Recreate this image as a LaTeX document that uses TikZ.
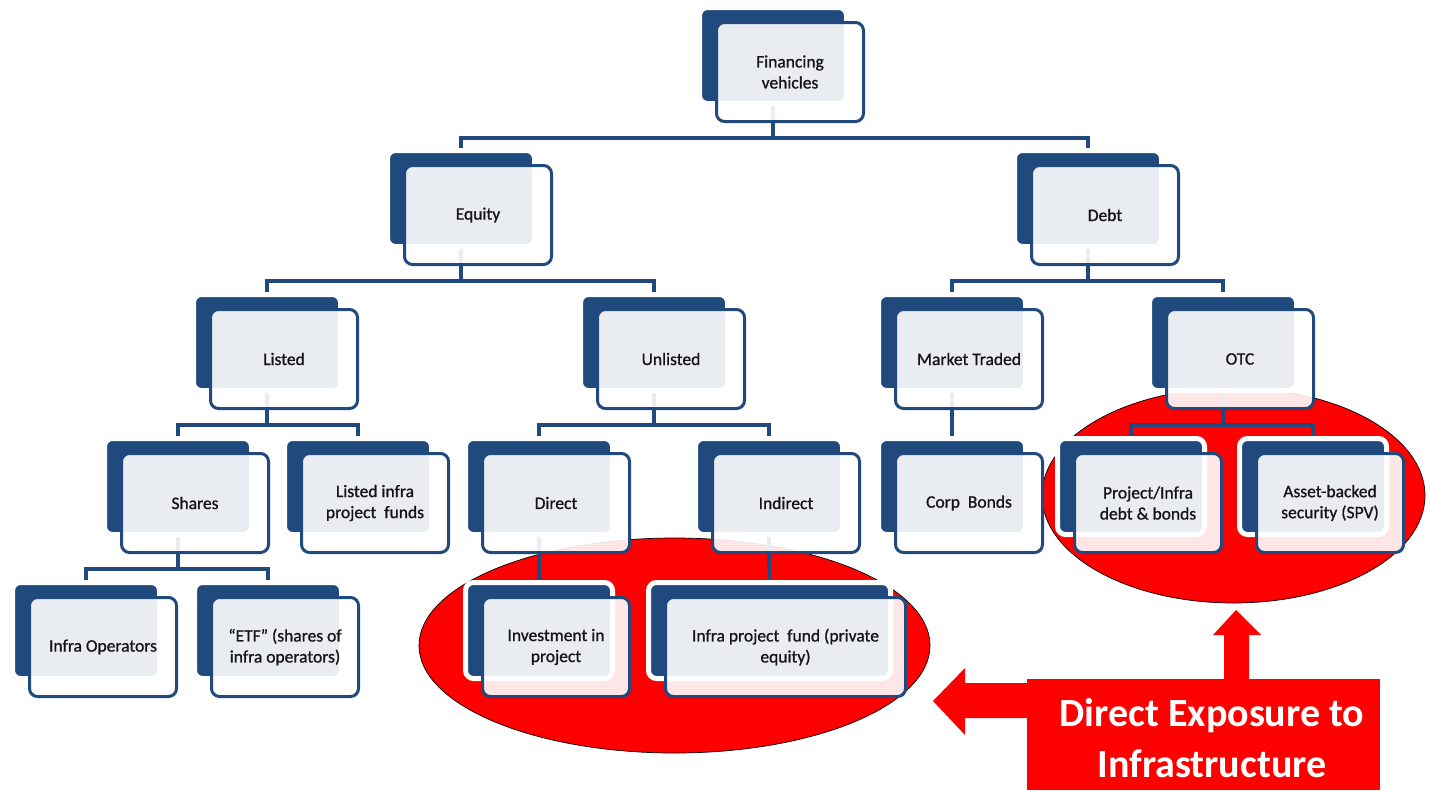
\documentclass[tikz,border=0pt]{standalone}
\usepackage{fontspec}
\setmainfont{Carlito}
\newfontfamily\boxfont[FakeBold=0.9]{Carlito}
\usetikzlibrary{calc,shadows}
\definecolor{dblue}{RGB}{32,73,125}
\definecolor{txt}{RGB}{20,20,20}
\definecolor{hred}{RGB}{255,0,0}
\pgfdeclarelayer{ell}
\pgfdeclarelayer{lines}
\pgfsetlayers{ell,lines,main}
\tikzset{
  backbox/.style={rectangle, rounded corners=8pt, fill=dblue, draw=white, line width=5pt,
    minimum height=96pt, inner sep=0pt,
    drop shadow={shadow xshift=-1.5pt, shadow yshift=-2pt, opacity=0.15, fill=black}},
  frontbox/.style={rectangle, rounded corners=8pt, draw=dblue, line width=3pt, fill=white,
    fill opacity=0.9, text opacity=1, minimum height=99pt, inner sep=0pt, align=center,
    font=\boxfont\fontsize{17.5}{21}\selectfont, text=txt},
  conn/.style={draw=dblue, line width=3.5pt},
  redell/.style={fill=hred, draw=black, line width=0.7pt},
  bigtxt/.style={text=white, font=\bfseries\fontsize{40}{51}\selectfont, anchor=base, inner sep=0pt}
}
% name, x, y, back width, front width, text
\newcommand{\fnode}[6]{%
  \node[backbox, minimum width={#4+5}] (#1-b) at ({#2+#4/2}, {#3+45.5}) {};
  \node[frontbox, minimum width={#5-3}] (#1) at ({#2+13+#5/2}, {#3+62}) {#6};
}
\begin{document}
\begin{tikzpicture}[x=1pt, y=-1pt]
\useasboundingbox (0,0) rectangle (1431,790);

\begin{pgfonlayer}{ell}
  \draw[redell] (674.5,645.5) ellipse [x radius=255.5, y radius=107.5];
  \draw[redell] (1233.5,495.5) ellipse [x radius=191.5, y radius=107.5];
\end{pgfonlayer}

\fnode{fin}{702}{10}{142}{150}{Financing\\vehicles}
\fnode{eq}{390}{153}{142}{150}{Equity}
\fnode{debt}{1017}{153}{142}{150}{Debt}
\fnode{listed}{196}{297}{142}{150}{Listed}
\fnode{unl}{583}{297}{142}{150}{Unlisted}
\fnode{mkt}{881}{297}{142}{150}{Market Traded}
\fnode{otc}{1152}{297}{142}{150}{OTC}
\fnode{shares}{107}{441}{142}{150}{Shares}
\fnode{lif}{287}{441}{142}{150}{Listed infra\\project\ \ funds}
\fnode{direct}{468}{441}{142}{150}{Direct}
\fnode{indirect}{698}{441}{142}{150}{Indirect}
\fnode{corp}{881}{441}{142}{150}{Corp\ \ Bonds}
\fnode{proj}{1060}{441}{142}{150}{Project/Infra\\debt \& bonds}
\fnode{abs}{1242}{441}{142}{150}{Asset-backed\\security (SPV)}
\fnode{infop}{15}{585}{142}{150}{Infra Operators}
\fnode{etf}{197}{585}{142}{150}{“ETF” (shares of\\infra operators)}
\fnode{inv}{468}{585}{142}{150}{Investment in\\project}
\fnode{ifund}{651}{585}{237}{243}{Infra project\ \ fund (private\\equity)}

\begin{pgfonlayer}{lines}
  \foreach \p/\c in {fin/eq, fin/debt, eq/listed, eq/unl, debt/mkt, debt/otc,
      listed/shares, listed/lif, unl/direct, unl/indirect, mkt/corp, otc/proj, otc/abs,
      shares/infop, shares/etf, direct/inv, indirect/ifund}
    \draw[conn] (\p-b.south) -- ++(0,32) -| (\c-b.north);
\end{pgfonlayer}

% callout
\fill[hred] (1027,679) rectangle (1380,790);
\fill[hred] (1030,683) -- (965,683) -- (965,668) -- (933,701) -- (965,735) -- (965,718) -- (1030,718) -- cycle;
\fill[hred] (1224,682) -- (1224,635) -- (1213,635) -- (1236,610) -- (1261,635) -- (1249,635) -- (1249,682) -- cycle;
\node[bigtxt] (expo1) at (1212,726) {Direct Exposure to};
\node[bigtxt] (expo2) at (1212,777) {Infrastructure};
\end{tikzpicture}
\end{document}
